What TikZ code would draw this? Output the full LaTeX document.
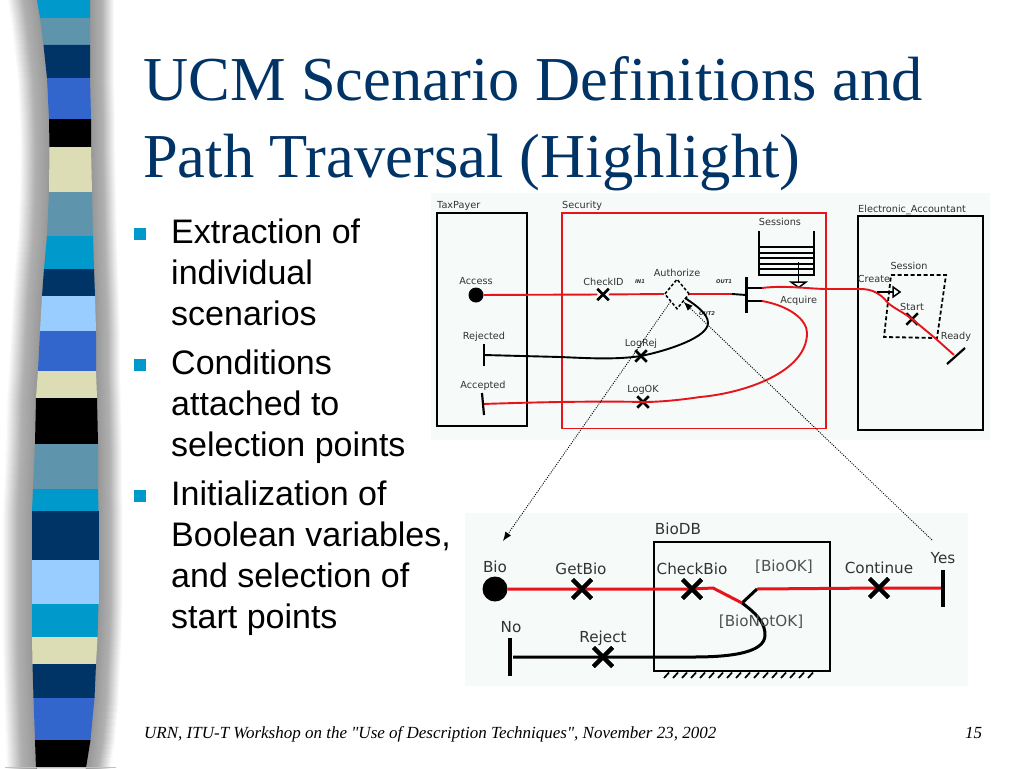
\documentclass[tikz,border=0pt]{standalone}
\usepackage{fontspec}
\setmainfont{Liberation Sans}
\newfontfamily\seriffam{Liberation Serif}
\newfontfamily\dejafam{DejaVu Sans}
\usetikzlibrary{shapes.geometric,shapes.misc,arrows.meta}
\definecolor{ctitle}{HTML}{003366}
\definecolor{scyan}{HTML}{0099CC}
\definecolor{sgrey}{HTML}{5F94AD}
\definecolor{snavy}{HTML}{003366}
\definecolor{sblue}{HTML}{3366CC}
\definecolor{scream}{HTML}{DDDDB5}
\definecolor{slight}{HTML}{99CCFF}
\definecolor{panel}{HTML}{F6FAF8}
\definecolor{lbl}{HTML}{333333}
\definecolor{redp}{HTML}{E8141C}
\definecolor{shade}{HTML}{969696}
\definecolor{shademid}{HTML}{B0B0B0}
\tikzset{
  title/.style={anchor=base west,inner sep=0,font=\seriffam\fontsize{62.5}{62}\selectfont,text=ctitle},
  bul/.style={anchor=base west,inner sep=0,font=\fontsize{34}{34}\selectfont,text=black},
  bsq/.style={fill=scyan,draw=none,minimum size=12.5pt,inner sep=0},
  foot/.style={anchor=base west,inner sep=0,font=\seriffam\itshape\fontsize{17}{17}\selectfont},
  sl/.style={inner sep=0,font=\dejafam\fontsize{9.7}{10}\selectfont,text=lbl},
  bl/.style={inner sep=0,font=\dejafam\fontsize{15.2}{16}\selectfont,text=lbl},
  tiny/.style={inner sep=0,font=\dejafam\bfseries\itshape\fontsize{5.2}{6}\selectfont,text=black!80},
  rp/.style={draw=redp,line width=1.9pt},
  kp/.style={draw=black,line width=1.9pt},
  rpb/.style={draw=redp,line width=3pt},
  kpb/.style={draw=black,line width=3pt},
  xm/.style={cross out,draw=black,line width=2.5pt,minimum size=9pt,inner sep=0},
  xmb/.style={cross out,draw=black,line width=4pt,minimum size=15pt,inner sep=0},
  dot/.style={circle,fill=black,inner sep=0},
  dots/.style={draw=black,line width=0.9pt,dash pattern=on 1pt off 1.3pt},
}
\begin{document}
\begin{tikzpicture}[x=1pt,y=-1pt]
\useasboundingbox (0,0) rectangle (1024,768);
\fill[white] (0,0) rectangle (1024,768);
% side stripe: shadows, interpolated in thin slices
\foreach \ya/\la/\ra/\yb/\lb/\rb in {
0/37/90/18/40/90,18/40/90/45/43.5/90,45/43.5/90/78/47/90,78/47/90/119/49/91,119/49/91/147/49.5/91,
147/49.5/91/192/49/92,192/49/92/236/47/93,236/47/93/269/44/94,269/44/94/296/42/95,296/42/95/331/40/96,
331/40/96/371/38/96,371/38/96/398/36/97,398/36/97/444/35/98,444/35/98/489/33/98,489/33/98/511/32/98.5,
511/32/98.5/560/32/98.5,560/32/98.5/604/32/98.5,604/32/98.5/637/32/97.5,637/32/97.5/664/32.5/96,
664/32.5/96/698/33.5/94.5,698/33.5/94.5/740/35/90.5,740/35/90.5/768/36/86}{
  \foreach \k in {0,...,5}{
    \pgfmathsetmacro{\tt}{\k/6}
    \pgfmathsetmacro{\yy}{\ya+(\yb-\ya)*\tt}
    \pgfmathsetmacro{\yn}{\ya+(\yb-\ya)*(\tt+1/6)+0.4}
    \pgfmathsetmacro{\ll}{\la+(\lb-\la)*\tt}
    \pgfmathsetmacro{\rr}{\ra+(\rb-\ra)*\tt}
    \shade[left color=white,right color=shade,middle color=shademid,draw=none] (\ll-30,\yy) rectangle (\ll+1,\yn);
    \shade[left color=shade,right color=white,middle color=shademid,draw=none] (\rr-1,\yy) rectangle (\rr+24,\yn);
  }
}
% side stripe: bands
\foreach \ya/\la/\ra/\yb/\lb/\rb/\c in {
0/37/90/18/40/90/scyan,18/40/90/45/43.5/90/sgrey,45/43.5/90/78/47/90/snavy,78/47/90/119/49/91/sblue,119/49/91/147/49.5/91/black,
147/49.5/91/192/49/92/scream,192/49/92/236/47/93/sgrey,236/47/93/269/44/94/scyan,269/44/94/296/42/95/snavy,296/42/95/331/40/96/slight,
331/40/96/371/38/96/sblue,371/38/96/398/36/97/scream,398/36/97/444/35/98/black,444/35/98/489/33/98/sgrey,489/33/98/511/32/98.5/scyan,
511/32/98.5/560/32/98.5/snavy,560/32/98.5/604/32/98.5/slight,604/32/98.5/637/32/97.5/scyan,637/32/97.5/664/32.5/96/scream,
664/32.5/96/698/33.5/94.5/snavy,698/33.5/94.5/740/35/90.5/sblue,740/35/90.5/768/36/86/black}{
  \fill[\c] (\la,\ya) -- (\ra,\ya) -- (\rb,\yb) -- (\lb,\yb) -- cycle;
}
\draw[shade!60,line width=1pt] (5,767.5) -- (116,767.5);
% title
\node[title] (t1) at (143,100) {UCM Scenario Definitions and};
\node[title] (t2) at (143,177) {Path Traversal (Highlight)};
% bullets
\node[bsq] (b1) at (140,234) {};
\node[bsq] (b2) at (140,365) {};
\node[bsq] (b3) at (140,496) {};
\node[bul] (l1) at (171,243) {Extraction of};
\node[bul] (l2) at (171,284) {individual};
\node[bul] (l3) at (171,325) {scenarios};
\node[bul] (l4) at (171,374) {Conditions};
\node[bul] (l5) at (171,415) {attached to};
\node[bul] (l6) at (171,456) {selection points};
\node[bul] (l7) at (171,505) {Initialization of};
\node[bul] (l8) at (171,546) {Boolean variables,};
\node[bul] (l9) at (171,587) {and selection of};
\node[bul] (l10) at (171,628) {start points};
% footer
\node[foot] (f1) at (144,738) {URN, ITU-T Workshop on the "Use of Description Techniques", November 23, 2002};
\node[foot] (f2) at (965,738) {15};
% panels
\fill[panel] (431,193) rectangle (990,440);
\fill[panel] (465,513) rectangle (968,686);
% upper diagram components
\node[draw=black,line width=1.9pt,minimum width=90pt,minimum height=213pt,inner sep=0] (tax) at (482,319.5) {};
\node[draw=redp,line width=1.9pt,minimum width=264pt,minimum height=215.5pt,inner sep=0] (sec) at (694,320.75) {};
\node[draw=black,line width=1.9pt,minimum width=125pt,minimum height=214pt,inner sep=0] (acc) at (920.5,323) {};
\node[sl,anchor=base west] (taxl) at (437,208) {TaxPayer};
\node[sl,anchor=base west] (secl) at (562,208) {Security};
\node[sl,anchor=base west] (accl) at (858,212) {Electronic\_Accountant};
% pool
\draw[kp] (759,231) -- (759,275) -- (814,275) -- (814,231);
\foreach \yy in {247,253,258,264,269} \draw[draw=black,line width=1.5pt] (759,\yy) -- (814,\yy);
\node[sl] (sessl) at (780,222) {Sessions};
\coordinate (pa) at (798.7,262);
\coordinate (pb) at (798.7,282);
\draw[draw=black,line width=1.2pt] (pa) -- (pb);
\draw[draw=black,line width=1.5pt] (791,282) -- (806,282) -- (798.7,287.5) -- cycle;
\node[sl] (acql) at (798.7,301) {Acquire};
% session
\draw[draw=black,line width=1.8pt,dash pattern=on 4pt off 2.5pt] (891,275) -- (946,275) -- (937,338) -- (884,337) -- cycle;
\node[sl] (sesl) at (909,266) {Session};
\node[sl] (crel) at (874,279) {Create};
\node[sl] (stal) at (912,307) {Start};
\node[sl] (readl) at (956,337) {Ready};
% access etc.
\node[dot,minimum size=15pt] (access) at (476,295) {};
\node[sl] (accessl) at (476,281) {Access};
\node[xm] (check) at (603,294.5) {};
\node[sl] (checkl) at (603.5,282) {CheckID};
\node[tiny] (in1) at (640,282) {IN1};
\node[tiny] (out1) at (724,282) {OUT1};
\node[tiny] (out2) at (707,314) {OUT2};
\node[sl] (authl) at (677,272.7) {Authorize};
\node[diamond,draw=black,line width=1.5pt,dash pattern=on 3pt off 2pt,minimum width=25pt,minimum height=30pt,inner sep=0,aspect=0.83] (auth) at (677,294) {};
\coordinate (forkin) at (732,294);
\coordinate (bar) at (746,295);
\coordinate (f1a) at (762,288);
\coordinate (f2a) at (762,301);
\coordinate (crs) at (877,292);
\coordinate (crend) at (893,292);
\coordinate (rdy) at (954,355);
\node[xm] (start) at (912,319) {};
\draw[rp] (access) -- (check) -- (auth.west);
\draw[rp] (auth.east) -- (forkin);
\draw[kp] (forkin) -- (bar);
\draw[draw=black,line width=3pt] (746,277) -- (746,313);
\draw[kp] (746,288) -- (f1a);
\draw[kp] (746,301) -- (f2a);
\draw[rp] (f1a) .. controls (785,285) and (810,289) .. (827,289) -- (860,289) .. controls (872,289) and (880,293) .. (888,303) .. controls (895,309) and (903,312) .. (start.center) -- (935,338) -- (rdy);
\draw[kp] (crs) -- (crend);
\draw[draw=black,line width=1.5pt] (893,287) -- (900,292) -- (893,297) -- cycle;
\draw[draw=black,line width=2.2pt] (947,364) -- (965,348);
\node[xm] (logok) at (643,402) {};
\node[sl] (logokl) at (643,390) {LogOK};
\coordinate (acc0) at (483,404);
\draw[rp] (f2a) .. controls (790,306) and (807,320) .. (807,333) .. controls (807,372) and (745,393) .. (700,397) .. controls (680,400) and (660,402) .. (logok.center) .. controls (600,401) and (540,402) .. (acc0);
\draw[draw=black,line width=2.2pt] (482,393) -- (484,415);
\node[sl] (accpl) at (483,385.7) {Accepted};
\node[xm] (logrej) at (641,356) {};
\node[sl] (logrejl) at (641,344) {LogRej};
\coordinate (rej0) at (484,355);
\coordinate (dmout) at (685,298);
\draw[kp] (dmout) .. controls (697,306) and (708,314) .. (708,323) .. controls (708,337) and (670,350) .. (logrej.center) .. controls (615,360) and (585,358) .. (560,357) -- (rej0);
\draw[draw=black,line width=2.2pt] (484,344) -- (484,366);
\node[sl] (rejl) at (484,337) {Rejected};
% lower diagram
\node[draw=black,line width=2.8pt,minimum width=176pt,minimum height=129pt,inner sep=0] (bio) at (742,606.5) {};
\node[bl] (biol) at (678,529) {BioDB};
\foreach \xx in {664,673,...,812} \draw[draw=black,line width=1.7pt] (\xx,678) -- (\xx+5,672.5);
\node[dot,minimum size=25pt] (biod) at (495,589) {};
\node[bl] (biodl) at (495,567) {Bio};
\node[xmb] (getb) at (582,589) {};
\node[bl] (getbl) at (581,569) {GetBio};
\node[xmb] (chkb) at (692,589) {};
\node[bl] (chkbl) at (692,569) {CheckBio};
\node[xmb] (cont) at (879,588) {};
\node[bl] (contl) at (879,568) {Continue};
\node[bl,text=lbl!85] (okl) at (784,567) {[BioOK]};
\node[bl] (yesl) at (943,558) {Yes};
\node[bl] (nol) at (511,627) {No};
\node[bl] (rejbl) at (603,638) {Reject};
\node[xmb] (rejb) at (603,657) {};
\coordinate (k1) at (713,588);
\coordinate (k2) at (742,603);
\coordinate (k3) at (757,589);
\coordinate (yes) at (942,588);
\coordinate (noend) at (513,657);
\draw[kpb] (k2) .. controls (760,616) and (765,625) .. (765,635) .. controls (765,653) and (730,657) .. (693,657) -- (rejb.center) -- (noend);
\draw[kpb] (k2) -- (k3);
\draw[rpb] (biod) -- (getb.center) -- (chkb.center) -- (k1) -- (k2);
\draw[rpb] (k3) -- (cont.center) -- (yes);
\foreach \n in {getb,chkb,cont,rejb} \node[xmb] at (\n) {};
\node[bl,text=lbl!85] (notl) at (761,622) {[BioNotOK]};
\draw[draw=black,line width=3.6pt] (943,570) -- (943,607);
\draw[draw=black,line width=3.6pt] (510,638) -- (510,676);
% dotted arrows
\coordinate (bioarrow) at (503,541);
\coordinate (yesarrow) at (932,540);
\draw[dots,-{Latex[length=9pt,width=7pt]}] (auth.south west) -- (bioarrow);
\draw[dots,-{Latex[length=9pt,width=7pt]}] (yesarrow) -- (auth.south east);
\end{tikzpicture}
\end{document}
